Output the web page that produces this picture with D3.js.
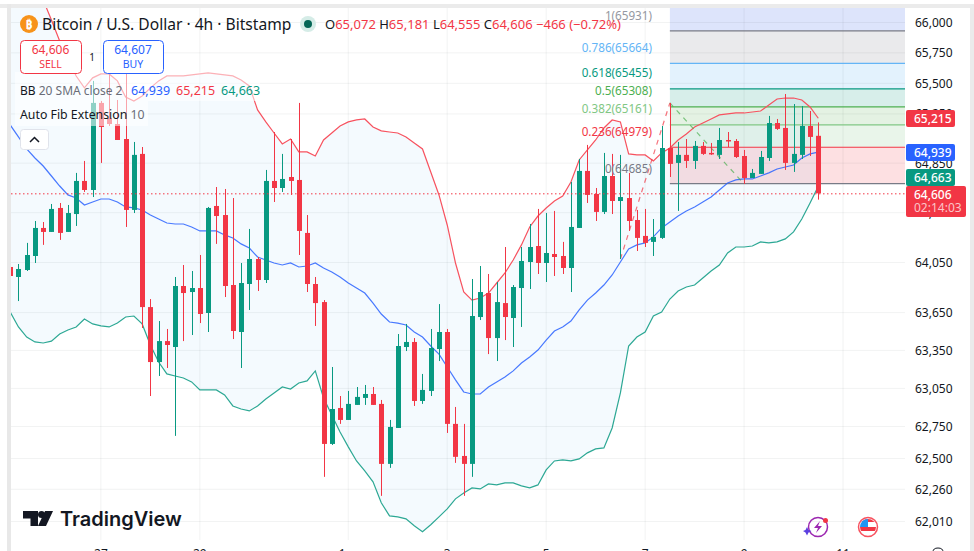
<!DOCTYPE html>
<html>
<head>
  <title>Bitcoin / U.S. Dollar 4h</title>
  <script src="https://d3js.org/d3.v7.min.js"></script>
  <style>
    html, body { margin: 0; padding: 0; background: #fff; overflow: hidden; }
    svg { display: block; font-family: "Noto Sans", sans-serif; }
  </style>
</head>
<body>
  <div id="chart"></div>
  <script>
    const opens = [64014,63934,63990,64102,64327,64295,64488,64295,64439,64706,
      64633,65340,65217,65168,65046,64472,64925,63694,63258,63424,
      63377,63862,63814,63846,63647,64504,64431,63870,63496,63878,
      64078,63910,64706,64649,64738,64714,64287,63878,63734,62614,
      62896,62802,62920,62975,63006,62928,62458,62739,63377,63417,
      62951,63030,63361,63496,62771,62520,62458,63615,63806,63448,
      63726,63607,63846,64054,64182,64046,64118,64102,64006,64327,
      64787,64601,64456,64746,64544,64568,64391,64263,64215,64247,
      64973,64852,64917,64868,64990,64933,64917,65038,65030,64908,
      64730,64763,64892,65176,65136,64852,64917,65152,65072];
    const highs = [64014,64038,64207,64383,64375,64520,64528,64512,64771,64868,
      65520,65356,65585,65364,65585,65022,64981,63758,63583,63520,
      63934,64030,63982,64110,64496,64657,64641,64568,64046,64319,
      64094,64795,65103,64925,65046,65340,64431,63934,63750,63219,
      62990,63030,63061,63077,63061,62959,62802,63480,63560,63448,
      63164,63520,63718,63520,62904,62771,63918,64022,63958,63894,
      64174,63870,64174,64359,64480,64447,64464,64215,64698,64884,
      64998,64649,64933,64925,64917,64771,64472,64480,64399,65152,
      65340,65022,65046,65030,65022,65014,65136,65103,65046,64957,
      64803,64949,65234,65209,65413,65331,65315,65274,65181];
    const lows = [63934,63742,63982,64046,64191,64295,64231,64295,64343,64617,
      64576,64852,65152,65038,64335,64447,63528,62990,63148,63211,
      62677,63424,63472,63567,63496,64199,63774,63440,63211,63671,
      63822,63886,64536,64617,64593,64110,63814,63544,62357,62606,
      62771,62802,62920,62920,62920,62209,62427,62739,63345,62912,
      62928,62990,63266,62700,62466,62209,62357,63591,63321,63266,
      63432,63377,63536,63838,63958,63894,63942,63958,63814,64327,
      64528,64383,64439,64439,64078,64303,64142,64174,64102,64239,
      64738,64464,64811,64803,64917,64917,64884,64981,64892,64682,
      64730,64763,64868,65120,64795,64779,64884,64908,64555];
    const closes = [63942,63998,64110,64327,64295,64480,64287,64447,64706,64633,
      65340,65144,65168,65038,64472,64917,63694,63258,63424,63393,
      63862,63806,63846,63639,64488,64423,63862,63504,63886,64078,
      63910,64706,64649,64722,64706,64303,63878,63726,62614,62888,
      62802,62928,62983,63006,62920,62458,62747,63385,63417,62951,
      63038,63369,63496,62771,62513,62458,63623,63814,63448,63734,
      63615,63854,64062,64174,64046,64126,64094,64006,64335,64787,
      64593,64456,64746,64544,64576,64383,64247,64207,64255,64973,
      64844,64917,64868,64990,64925,64925,65038,65030,64900,64730,
      64771,64900,65176,65128,64852,64925,65152,65063,64606];

    const bbUpper = [66601,66517,66434,66310,66186,66021,65847,65708,65560,65463,
      65545,65577,65577,65520,65389,65356,65397,65463,65520,65561,
      65561,65561,65569,65577,65586,65577,65569,65561,65528,65479,
      65283,65185,65095,65006,65046,64941,64941,64908,65038,65095,
      65152,65185,65201,65209,65144,65112,65103,65095,65063,65014,
      64965,64779,64593,64351,64046,63814,63750,63766,63806,63886,
      63966,64070,64191,64335,64423,64488,64544,64584,64698,64876,
      64957,65038,65136,65201,65185,64925,64917,64917,64868,64933,
      64973,65038,65087,65144,65176,65209,65242,65250,65258,65258,
      65266,65274,65323,65372,65380,65380,65364,65307,65215];
    const bbBasis = [65160,65063,64965,64892,64827,64746,64665,64593,64568,64512,
      64536,64560,64560,64536,64496,64488,64472,64431,64399,64367,
      64359,64359,64335,64303,64303,64303,64271,64247,64199,64166,
      64094,64070,64046,64030,64046,64014,64022,64046,64006,63974,
      63934,63886,63846,63806,63726,63639,63575,63567,63552,63496,
      63456,63385,63321,63219,63117,63022,63006,63006,63061,63101,
      63140,63188,63250,63298,63353,63432,63504,63536,63583,63671,
      63750,63806,63870,63950,64054,64158,64191,64207,64255,64327,
      64375,64423,64464,64496,64536,64576,64633,64690,64714,64722,
      64722,64746,64771,64803,64819,64835,64892,64925,64939];
    const bbLower = [63655,63536,63456,63417,63409,63424,63480,63512,63536,63599,
      63560,63544,63536,63567,63615,63623,63560,63393,63258,63164,
      63148,63132,63101,63038,63038,63038,62998,62912,62888,62873,
      62912,62967,63014,63061,63045,63093,63109,63188,62975,62841,
      62708,62591,62481,62403,62318,62155,62054,62046,62031,61977,
      61931,61985,62046,62108,62186,62232,62271,62263,62302,62294,
      62310,62310,62287,62271,62294,62411,62481,62489,62481,62497,
      62544,62575,62583,62739,63014,63385,63456,63496,63623,63655,
      63758,63822,63854,63870,63926,63982,64030,64126,64174,64174,
      64182,64215,64207,64215,64239,64295,64399,64528,64663];

    const priceTicks = [66000,65750,65500,65250,64850,64450,64050,63650,63350,63050,62750,62500,62260,62010];
    const dateIdx = [11,23,41,53,65,77,89,101];
    const dateLabels = ["27","29","1","3","5","7","9","11"];

    const fibRatios = ["1","0.786","0.618","0.5","0.382","0.236","0"];
    const fibPrices = [65931,65664,65455,65308,65161,64979,64685];
    const fibLine = ["#787b86","#64b5f6","#089981","#4caf50","#81c784","#f23645","#787b86"];
    const fibZone = ["#dde4fb","#eaeaec","#e3f2fd","#d7eeea","#e4f2e3","#e9f5ea","#fde0e2"];
    const fibText = ["#9598a1","#64b5f6","#089981","#4caf50","#81c784","#f23645","#787b86"];
    const fibLabelY = [20,52,77,95,113,136,173];

    const zigIdx = [74,80,89];
    const zigPrice = [64078,65340,64682];

    const GREEN = "#089981", RED = "#f23645", BLUE = "#2962ff";
    const plot = { left: 11, right: 905, top: 8, bottom: 540 };

    const x = d3.scaleLinear().domain([0, 98]).range([10.2, 818.3]);
    const y = d3.scaleLog().domain([62010, 66000]).range([521.5, 22.5]);

    const svg = d3.select("#chart").append("svg")
      .attr("width", 974).attr("height", 551);

    // window chrome
    svg.append("rect").attr("width", 974).attr("height", 551).attr("fill", "#fff");
    svg.append("rect").attr("x", 0).attr("y", 4).attr("width", 974).attr("height", 4).attr("fill", "#ebebeb");
    svg.append("rect").attr("x", 7).attr("y", 4).attr("width", 4).attr("height", 547).attr("fill", "#e8e8e8");
    svg.append("rect").attr("x", 970).attr("y", 4).attr("width", 4).attr("height", 547).attr("fill", "#ebebeb");

    svg.append("clipPath").attr("id", "plotClip").append("rect")
      .attr("x", plot.left).attr("y", plot.top)
      .attr("width", plot.right - plot.left).attr("height", plot.bottom - plot.top);

    const g = svg.append("g").attr("clip-path", "url(#plotClip)");

    // auto fib zones, they start at the swing high
    const fibX0 = x(80);
    fibPrices.forEach((p, k) => {
      const zoneTop = k === 0 ? plot.top : y(fibPrices[k - 1]);
      g.append("rect").attr("x", fibX0).attr("width", plot.right - fibX0)
        .attr("y", zoneTop).attr("height", y(p) - zoneTop)
        .attr("fill", fibZone[k]);
    });

    // bollinger fill
    const idx = d3.range(opens.length);
    g.append("path").datum(idx)
      .attr("fill", "#2196f3").attr("fill-opacity", 0.05)
      .attr("d", d3.area().x(i => x(i)).y0(i => y(bbLower[i])).y1(i => y(bbUpper[i])));

    // grid
    g.selectAll(".hgrid").data(priceTicks).enter().append("line")
      .attr("x1", plot.left).attr("x2", plot.right)
      .attr("y1", d => y(d)).attr("y2", d => y(d))
      .attr("stroke", "#2a2e39").attr("stroke-opacity", 0.06);
    g.selectAll(".vgrid").data(dateIdx).enter().append("line")
      .attr("x1", d => x(d)).attr("x2", d => x(d))
      .attr("y1", plot.top).attr("y2", plot.bottom)
      .attr("stroke", "#2a2e39").attr("stroke-opacity", 0.06);

    fibPrices.forEach((p, k) => {
      g.append("line").attr("x1", fibX0).attr("x2", plot.right)
        .attr("y1", y(p)).attr("y2", y(p))
        .attr("stroke", fibLine[k]).attr("stroke-width", 1.2);
    });

    const bandLine = arr => d3.line().x(i => x(i)).y(i => y(arr[i]));
    g.append("path").datum(idx).attr("fill", "none").attr("stroke", "#f7525f").attr("stroke-width", 1.2).attr("d", bandLine(bbUpper));
    g.append("path").datum(idx).attr("fill", "none").attr("stroke", BLUE).attr("stroke-width", 1.2).attr("stroke-opacity", 0.85).attr("d", bandLine(bbBasis));
    g.append("path").datum(idx).attr("fill", "none").attr("stroke", GREEN).attr("stroke-width", 1.2).attr("stroke-opacity", 0.85).attr("d", bandLine(bbLower));

    // zigzag of the fib swing
    g.append("line").attr("x1", x(zigIdx[0])).attr("y1", y(zigPrice[0]))
      .attr("x2", x(zigIdx[1])).attr("y2", y(zigPrice[1]))
      .attr("stroke", RED).attr("stroke-opacity", 0.7).attr("stroke-width", 1.2).attr("stroke-dasharray", "5,5");
    g.append("line").attr("x1", x(zigIdx[1])).attr("y1", y(zigPrice[1]))
      .attr("x2", x(zigIdx[2])).attr("y2", y(zigPrice[2]))
      .attr("stroke", "#4caf50").attr("stroke-opacity", 0.7).attr("stroke-width", 1.2).attr("stroke-dasharray", "5,5");

    // candles
    const candles = g.selectAll(".candle").data(idx).enter().append("g");
    candles.append("line")
      .attr("x1", i => Math.round(x(i)) + 0.5).attr("x2", i => Math.round(x(i)) + 0.5)
      .attr("y1", i => y(highs[i])).attr("y2", i => y(lows[i]))
      .attr("stroke", i => closes[i] >= opens[i] ? GREEN : RED);
    candles.append("rect")
      .attr("x", i => Math.round(x(i)) - 2).attr("width", 5)
      .attr("y", i => y(Math.max(opens[i], closes[i])))
      .attr("height", i => Math.max(1.5, Math.abs(y(opens[i]) - y(closes[i]))))
      .attr("fill", i => closes[i] >= opens[i] ? GREEN : RED);

    // last price dotted line
    g.append("line").attr("x1", plot.left).attr("x2", plot.right)
      .attr("y1", y(64606) + 0.5).attr("y2", y(64606) + 0.5)
      .attr("stroke", RED).attr("stroke-dasharray", "1.5,2.5");

    // fib labels
    svg.selectAll(".fibLabel").data(fibPrices).enter().append("text")
      .attr("x", 652).attr("y", (d, k) => fibLabelY[k])
      .attr("text-anchor", "end").attr("font-size", 11.7)
      .attr("fill", (d, k) => fibText[k])
      .text((d, k) => fibRatios[k] + "(" + d + ")");

    // price axis
    const axisG = svg.append("g").attr("transform", "translate(" + plot.right + ",0)")
      .call(d3.axisRight(y).tickValues(priceTicks).tickFormat(d3.format(",")).tickSize(0).tickPadding(10));
    axisG.select(".domain").remove();
    axisG.selectAll("text").attr("font-size", 12).attr("font-family", '"Noto Sans", sans-serif').attr("fill", "#131722");

    // date axis, only the tops of the labels are in frame
    const dateAxis = svg.append("g");
    dateAxis.selectAll("text").data(dateIdx).enter().append("text")
      .attr("x", (d, k) => x(d) - (dateLabels[k] === "1" ? 6 : 0)).attr("y", 557.5).attr("text-anchor", "middle")
      .attr("font-size", 12).attr("fill", "#131722")
      .text((d, k) => dateLabels[k]);
    // corner of the axis settings icon
    svg.append("path").attr("d", "M933,552 Q933,548 938,548 Q943,548 943,552").attr("fill", "none").attr("stroke", "#131722");

    // price tags
    function tag(label, top, h, w, color) {
      svg.append("rect").attr("x", 906).attr("y", top).attr("width", w).attr("height", h).attr("rx", 2).attr("fill", color);
      svg.append("text").attr("x", 914).attr("y", top + 13).attr("font-size", 12).attr("font-weight", 500).attr("fill", "#fff").text(label);
    }
    tag("65,215", 110, 17, 49, RED);
    tag("64,939", 144, 17, 49, BLUE);
    tag("64,663", 169, 17, 49, GREEN);
    tag("64,606", 186, 31, 60, RED);
    svg.append("text").attr("x", 914).attr("y", 212).attr("font-size", 12).attr("fill", "#fbc5c9").text("02:14:03");

    // legend veil
    svg.append("rect").attr("x", 15).attr("y", 72).attr("width", 245).attr("height", 29).attr("fill", "#fff").attr("fill-opacity", 0.55);
    svg.append("rect").attr("x", 15).attr("y", 101).attr("width", 133).attr("height", 25).attr("fill", "#fff").attr("fill-opacity", 0.55);

    // header
    svg.append("circle").attr("cx", 29).attr("cy", 24).attr("r", 9).attr("fill", "#f7931a");
    svg.append("text").attr("x", 29).attr("y", 28.5).attr("text-anchor", "middle").attr("font-size", 12).attr("font-weight", 700).attr("fill", "#fff").text("₿");
    svg.append("text").attr("x", 42).attr("y", 30).attr("font-size", 15.6).attr("fill", "#131722").text("Bitcoin / U.S. Dollar · 4h · Bitstamp");
    svg.append("circle").attr("cx", 308).attr("cy", 24).attr("r", 8).attr("fill", "#d5ece7");
    svg.append("circle").attr("cx", 308).attr("cy", 24).attr("r", 4).attr("fill", "#056656");
    const ohlc = svg.append("text").attr("x", 325).attr("y", 29).attr("font-size", 13).attr("fill", RED);
    ["O", "65,072", " H", "65,181", " L", "64,555", " C", "64,606", " −466 (−0.72%)"].forEach((t, k) => {
      ohlc.append("tspan").attr("fill", k % 2 === 0 && k < 8 ? "#131722" : RED).attr("xml:space", "preserve").text(t);
    });

    // sell / buy
    function tradeBox(bx, w, color, price, word) {
      svg.append("rect").attr("x", bx + 0.5).attr("y", 40.5).attr("width", w).attr("height", 33).attr("rx", 4)
        .attr("fill", "#fff").attr("stroke", color);
      svg.append("text").attr("x", bx + w / 2).attr("y", 54).attr("text-anchor", "middle").attr("font-size", 12).attr("fill", color).text(price);
      svg.append("text").attr("x", bx + w / 2).attr("y", 68).attr("text-anchor", "middle").attr("font-size", 10.5).attr("fill", color).text(word);
    }
    tradeBox(20, 61, RED, "64,606", "SELL");
    tradeBox(103, 60, BLUE, "64,607", "BUY");
    svg.append("text").attr("x", 92).attr("y", 61).attr("text-anchor", "middle").attr("font-size", 10).attr("fill", "#131722").text("1");

    // indicator legend
    const bb = svg.append("text").attr("x", 20).attr("y", 95).attr("font-size", 12);
    bb.append("tspan").attr("fill", "#131722").text("BB");
    bb.append("tspan").attr("fill", "#6a6d78").text(" 20 SMA close 2");
    [["64,939", BLUE, 131], ["65,215", RED, 176], ["64,663", GREEN, 221]].forEach(v => {
      svg.append("text").attr("x", v[2]).attr("y", 95).attr("font-size", 12.5).attr("fill", v[1]).text(v[0]);
    });
    const fibLegend = svg.append("text").attr("x", 20).attr("y", 119).attr("font-size", 12.3);
    fibLegend.append("tspan").attr("fill", "#131722").text("Auto Fib Extension");
    fibLegend.append("tspan").attr("fill", "#6a6d78").text(" 10");

    svg.append("rect").attr("x", 20.5).attr("y", 129.5).attr("width", 28).attr("height", 20).attr("rx", 3)
      .attr("fill", "#fff").attr("stroke", "#e0e3eb");
    svg.append("path").attr("d", "M30,142 L34.5,137.5 L39,142").attr("fill", "none").attr("stroke", "#131722").attr("stroke-width", 1.5);

    // TradingView logo
    const logo = svg.append("g").attr("fill", "#131722");
    logo.append("path").attr("d", "M23,511 H38 V526 H30.5 V518.5 H23 Z");
    logo.append("circle").attr("cx", 41.5).attr("cy", 514.5).attr("r", 3.5);
    logo.append("path").attr("d", "M45,511 H53 L46,526 H38 Z");
    svg.append("text").attr("x", 60).attr("y", 526).attr("font-family", "Inter, sans-serif")
      .attr("font-size", 20).attr("font-weight", 600).attr("fill", "#131722").text("TradingView");

    // bottom right icons
    svg.append("circle").attr("cx", 818).attr("cy", 527).attr("r", 9.5).attr("fill", "none").attr("stroke", "#9c27b0").attr("stroke-width", 1.5);
    svg.append("path").attr("d", "M820,521 L814,528 H818 L816,533 L822,526 H818 Z").attr("fill", "#9c27b0");
    svg.append("path").attr("d", "M807,527 L808.5,530 L811.5,531 L808.5,532.5 L807,535.5 L805.5,532.5 L803,531 L805.5,530 Z").attr("fill", "#5b3fe0");
    svg.append("circle").attr("cx", 825.5).attr("cy", 520.5).attr("r", 2.5).attr("fill", RED);

    svg.append("clipPath").attr("id", "flagClip").append("circle").attr("cx", 868).attr("cy", 527).attr("r", 8);
    const flag = svg.append("g").attr("clip-path", "url(#flagClip)");
    flag.append("rect").attr("x", 860).attr("y", 519).attr("width", 16).attr("height", 16).attr("fill", "#fff");
    flag.append("rect").attr("x", 860).attr("y", 527).attr("width", 16).attr("height", 4).attr("fill", "#f23645");
    flag.append("rect").attr("x", 860).attr("y", 519).attr("width", 16).attr("height", 3).attr("fill", "#f23645");
    flag.append("rect").attr("x", 860).attr("y", 519).attr("width", 8).attr("height", 8).attr("fill", "#2196f3");
    svg.append("circle").attr("cx", 868).attr("cy", 527).attr("r", 9.5).attr("fill", "none").attr("stroke", "#f7525f").attr("stroke-width", 1.5);
  </script>
</body>
</html>
